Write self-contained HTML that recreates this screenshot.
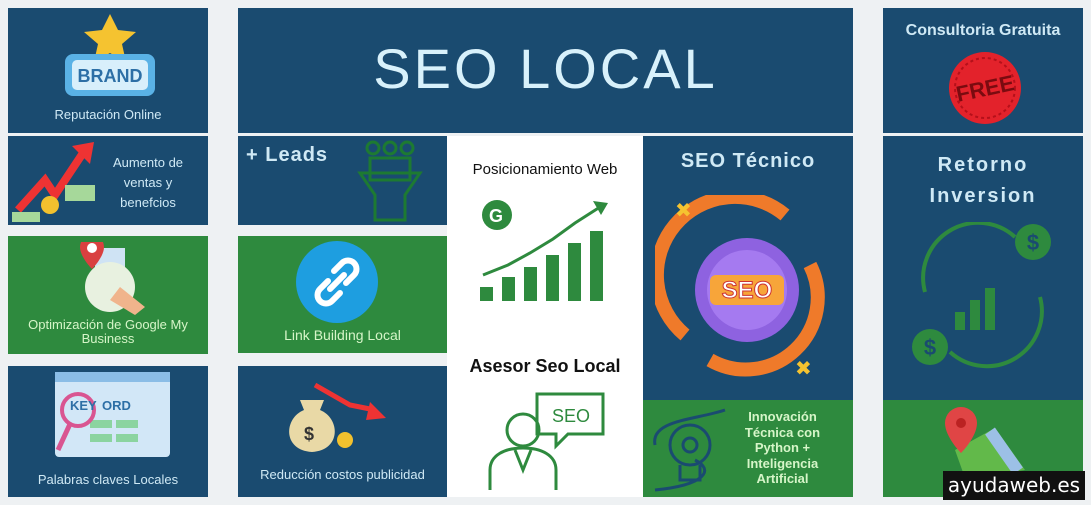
<!DOCTYPE html><html><head><meta charset="utf-8"><style>
body{margin:0;width:1091px;height:505px;background:#eef1f3;position:relative;overflow:hidden;font-family:"Liberation Sans",sans-serif}
.b{position:absolute;background:#1a4b70}
.g{position:absolute;background:#2e8a3e}
.t{position:absolute;color:#cfe9f5;text-align:center;font-size:13px}
.tg{color:#d6f5c8}
svg{position:absolute}
</style></head><body>
<div class="b" style="left:8px;top:8px;width:200px;height:125px"></div>
<div class="b" style="left:8px;top:136px;width:200px;height:89px"></div>
<div class="g" style="left:8px;top:236px;width:200px;height:118px"></div>
<div class="b" style="left:8px;top:366px;width:200px;height:131px"></div>
<div class="b" style="left:238px;top:8px;width:615px;height:125px"></div>
<div class="b" style="left:238px;top:136px;width:209px;height:89px"></div>
<div class="g" style="left:238px;top:236px;width:209px;height:117px"></div>
<div class="b" style="left:238px;top:366px;width:209px;height:131px"></div>
<div style="position:absolute;left:447px;top:136px;width:196px;height:361px;background:#fff"></div>
<div class="b" style="left:643px;top:136px;width:210px;height:264px"></div>
<div class="g" style="left:643px;top:400px;width:210px;height:97px"></div>
<div class="b" style="left:883px;top:8px;width:200px;height:125px"></div>
<div class="b" style="left:883px;top:136px;width:200px;height:264px"></div>
<div class="g" style="left:883px;top:400px;width:200px;height:97px"></div>

<div class="t" style="left:238px;top:36px;width:615px;font-size:56px;letter-spacing:3px;color:#d8f1fb">SEO LOCAL</div>

<svg style="left:60px;top:12px" width="100" height="90"><polygon points="50,2 58,18 76,20 62,32 66,50 50,41 34,50 38,32 24,20 42,18" fill="#f5c330"/><rect x="5" y="42" width="90" height="42" rx="8" fill="#5ab2e6"/><rect x="12" y="48" width="76" height="30" rx="5" fill="#d8effb"/><text x="50" y="70" text-anchor="middle" font-size="18" font-weight="bold" fill="#2d6fa6">BRAND</text></svg>
<div class="t" style="left:8px;top:107px;width:200px">Reputación Online</div>
<svg style="left:10px;top:140px" width="90" height="85"><polyline points="8,70 35,40 45,55 75,10" stroke="#e33" stroke-width="8" fill="none"/><polygon points="62,6 84,2 80,24" fill="#e33"/><circle cx="40" cy="65" r="9" fill="#f2c12e"/><rect x="55" y="45" width="30" height="16" fill="#a6d89a"/><rect x="2" y="72" width="28" height="10" fill="#a6d89a"/></svg>
<div class="t" style="left:98px;top:153px;width:100px;line-height:20px">Aumento de ventas y benefcios</div>
<svg style="left:65px;top:242px" width="90" height="75"><rect x="30" y="6" width="30" height="50" fill="#cfe3f4"/><circle cx="45" cy="45" r="25" fill="#e8f1e0"/><path d="M15,5 a12,12 0 0 1 24,0 c0,10 -12,22 -12,22 c0,0 -12,-12 -12,-22z" fill="#d94040"/><circle cx="27" cy="6" r="5" fill="#fff"/><path d="M55,45 l25,20 l-10,8 l-25,-15z" fill="#f0b48c"/></svg>
<div class="t tg" style="left:8px;top:318px;width:200px;line-height:14px">Optimización de Google My Business</div>
<svg style="left:50px;top:370px" width="125" height="90"><rect x="5" y="2" width="115" height="85" rx="4" fill="#d2e7f7"/><rect x="5" y="2" width="115" height="10" fill="#8bbde6"/><rect x="40" y="50" width="22" height="8" fill="#8bd4a0"/><rect x="66" y="50" width="22" height="8" fill="#8bd4a0"/><rect x="40" y="64" width="22" height="8" fill="#8bd4a0"/><rect x="66" y="64" width="22" height="8" fill="#8bd4a0"/><circle cx="28" cy="40" r="16" fill="none" stroke="#d95591" stroke-width="4"/><line x1="20" y1="54" x2="8" y2="80" stroke="#d95591" stroke-width="5"/><text x="20" y="40" font-size="13" font-weight="bold" fill="#2d6fa6">KEY</text><text x="52" y="40" font-size="13" font-weight="bold" fill="#2d6fa6">ORD</text></svg>
<div class="t" style="left:8px;top:472px;width:200px">Palabras claves Locales</div>

<div class="t" style="left:246px;top:144px;font-size:20px;font-weight:bold;text-align:left;letter-spacing:1px">+ Leads</div>
<svg style="left:355px;top:138px" width="70" height="85"><g fill="none" stroke="#1d7a32" stroke-width="3"><circle cx="18" cy="10" r="6"/><circle cx="35" cy="10" r="6"/><circle cx="52" cy="10" r="6"/><path d="M5,35 h60 l-15,22 v25 h-30 v-25z"/><rect x="15" y="20" width="40" height="22"/></g></svg>
<svg style="left:296px;top:241px" width="82" height="82"><circle cx="41" cy="41" r="41" fill="#1e9ee0"/><g fill="none" stroke="#fff" stroke-width="6" stroke-linecap="round"><path d="M38,30 l8,-8 a8,8 0 0 1 12,12 l-8,8"/><path d="M44,52 l-8,8 a8,8 0 0 1 -12,-12 l8,-8"/><line x1="34" y1="48" x2="48" y2="34"/></g></svg>
<div class="t tg" style="left:238px;top:327px;width:209px;font-size:14px">Link Building Local</div>
<svg style="left:280px;top:380px" width="110" height="75"><path d="M20,20 h24 l-4,10 c20,8 22,40 -8,42 c-30,-2 -28,-34 -8,-42z" fill="#e9d9a6"/><text x="24" y="60" font-size="18" font-weight="bold" fill="#333">$</text><circle cx="65" cy="60" r="8" fill="#f2c12e"/><polyline points="35,5 70,25 95,30" stroke="#e33" stroke-width="5" fill="none"/><polygon points="90,22 106,38 86,40" fill="#e33"/></svg>
<div class="t" style="left:238px;top:467px;width:209px">Reducción costos publicidad</div>

<div class="t" style="left:447px;top:161px;width:196px;color:#111;font-size:15px">Posicionamiento Web</div>
<svg style="left:475px;top:195px" width="140" height="110"><circle cx="22" cy="20" r="15" fill="#2e8a3e"/><text x="14" y="27" font-size="18" font-weight="bold" fill="#fff">G</text><g fill="#2e8a3e"><rect x="5" y="92" width="13" height="14"/><rect x="27" y="82" width="13" height="24"/><rect x="49" y="72" width="13" height="34"/><rect x="71" y="60" width="13" height="46"/><rect x="93" y="48" width="13" height="58"/><rect x="115" y="36" width="13" height="70"/></g><polyline points="8,80 33,70 55,58 78,44 100,28 125,12" stroke="#2e8a3e" stroke-width="3" fill="none"/><polygon points="118,6 133,8 126,20" fill="#2e8a3e"/></svg>
<div class="t" style="left:447px;top:356px;width:196px;color:#111;font-size:18px;font-weight:bold">Asesor Seo Local</div>
<svg style="left:485px;top:390px" width="125" height="102"><g fill="none" stroke="#2e8a3e" stroke-width="3"><circle cx="38" cy="40" r="16"/><path d="M5,100 v-20 c0,-15 15,-22 33,-22 c18,0 33,7 33,22 v20"/><path d="M30,60 l8,20 l8,-20"/><path d="M52,4 h66 v40 h-35 l-12,12 v-12 h-19z"/></g><text x="67" y="32" font-size="18" fill="#2e8a3e">SEO</text></svg>

<div class="t" style="left:643px;top:150px;width:210px;font-size:20px;font-weight:bold;letter-spacing:1px">SEO Técnico</div>
<svg style="left:655px;top:195px" width="185" height="190"><path d="M30,140 a72,72 0 0 1 100,-120" fill="none" stroke="#ef7a2a" stroke-width="14"/><path d="M155,70 a72,72 0 0 1 -100,95" fill="none" stroke="#ef7a2a" stroke-width="14"/><circle cx="92" cy="95" r="52" fill="#8e62e0"/><circle cx="92" cy="95" r="40" fill="#a57af0"/><rect x="55" y="80" width="74" height="30" rx="6" fill="#f7a53a"/><text x="92" y="103" text-anchor="middle" font-size="24" font-weight="bold" fill="#fff" stroke="#c33" stroke-width="1">SEO</text><text x="20" y="22" font-size="20" fill="#f5c330">✖</text><text x="140" y="180" font-size="20" fill="#f5c330">✖</text></svg>
<svg style="left:650px;top:405px" width="90" height="88"><g fill="none" stroke="#1a4b70" stroke-width="3"><circle cx="40" cy="40" r="20"/><circle cx="40" cy="40" r="7"/><path d="M30,60 v15 h20 v-15"/><path d="M5,40 c-5,-25 40,-25 70,-35"/><path d="M5,85 c50,-5 60,-20 40,-30"/></g></svg>
<div class="t tg" style="left:735px;top:409px;width:95px;font-size:13px;font-weight:bold;line-height:15.5px">Innovación Técnica con Python + Inteligencia Artificial</div>

<div class="t" style="left:883px;top:22px;width:200px;font-size:16px;font-weight:bold">Consultoria Gratuita</div>
<svg style="left:945px;top:50px" width="80" height="80"><circle cx="40" cy="38" r="36" fill="#e3222b"/><circle cx="40" cy="38" r="30" fill="none" stroke="#b5101a" stroke-width="2" stroke-dasharray="3 3"/><text x="40" y="46" text-anchor="middle" font-size="22" font-weight="bold" fill="#7a0b10" transform="rotate(-12 40 38)">FREE</text></svg>
<div class="t" style="left:883px;top:150px;width:200px;font-size:20px;font-weight:bold;letter-spacing:2px;line-height:31px">Retorno<br>Inversion</div>
<svg style="left:905px;top:222px" width="155" height="150"><g fill="none" stroke="#2e8a3e" stroke-width="4"><path d="M20,70 a55,55 0 0 1 90,-55"/><path d="M135,75 a55,55 0 0 1 -90,55"/></g><g fill="#2e8a3e"><circle cx="128" cy="20" r="18"/><circle cx="25" cy="125" r="18"/><rect x="50" y="90" width="10" height="18"/><rect x="65" y="78" width="10" height="30"/><rect x="80" y="66" width="10" height="42"/></g><text x="128" y="28" text-anchor="middle" font-size="22" font-weight="bold" fill="#1a4b70">$</text><text x="25" y="133" text-anchor="middle" font-size="22" font-weight="bold" fill="#1a4b70">$</text></svg>
<svg style="left:935px;top:405px" width="90" height="75"><path d="M20,45 l40,-22 l30,42 l-60,8z" fill="#62b94a"/><path d="M55,26 l28,40" stroke="#9cc0e6" stroke-width="12"/><path d="M10,18 a16,16 0 0 1 32,0 c0,14 -16,30 -16,30 c0,0 -16,-16 -16,-30z" fill="#e04545"/><circle cx="26" cy="18" r="5" fill="#b22"/></svg>
<div style="position:absolute;left:943px;top:471px;width:142px;height:29px;background:#111;color:#fff;font-family:'DejaVu Sans',sans-serif;font-size:20px;line-height:29px;text-align:center">ayudaweb.es</div>
</body></html>
